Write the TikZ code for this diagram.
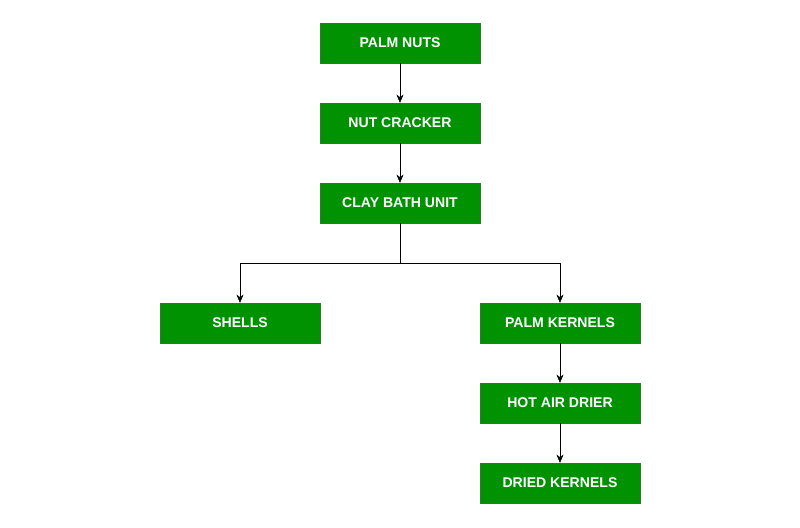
\documentclass[tikz,border=0pt]{standalone}
\usepackage{fontspec}
\setmainfont{Liberation Sans}
\usetikzlibrary{arrows.meta}
\definecolor{boxgreen}{HTML}{009200}
\definecolor{boxedge}{HTML}{2D7A2D}
\tikzset{
	stage/.style={draw=boxedge, fill=boxgreen, text=white, font=\bfseries\fontsize{12}{14}\selectfont,
		minimum width=4.8cm, minimum height=1.2cm, inner sep=0pt},
	flow/.style={-{Stealth[length=7pt,width=6pt]}, thin}
}
\begin{document}
\begin{tikzpicture}[x=0.03cm, y=-0.03cm]
	\useasboundingbox (0,0) rectangle (800,528);
	\node[stage] (nuts) at (400,43) {PALM NUTS};
	\node[stage] (cracker) at (400,123) {NUT CRACKER};
	\node[stage] (bath) at (400,203) {CLAY BATH UNIT};
	\node[stage] (shells) at (240,323) {SHELLS};
	\node[stage] (kernels) at (560,323) {PALM KERNELS};
	\node[stage] (drier) at (560,403) {HOT AIR DRIER};
	\node[stage] (dried) at (560,483) {DRIED KERNELS};
	
	\coordinate (split) at (400,263);
	\draw[flow] (nuts) -- (cracker);
	\draw[flow] (cracker) -- (bath);
	\draw (bath) -- (split);
	\draw[flow] (split) -| (shells);
	\draw[flow] (split) -| (kernels);
	\draw[flow] (kernels) -- (drier);
	\draw[flow] (drier) -- (dried);
\end{tikzpicture}
\end{document}
